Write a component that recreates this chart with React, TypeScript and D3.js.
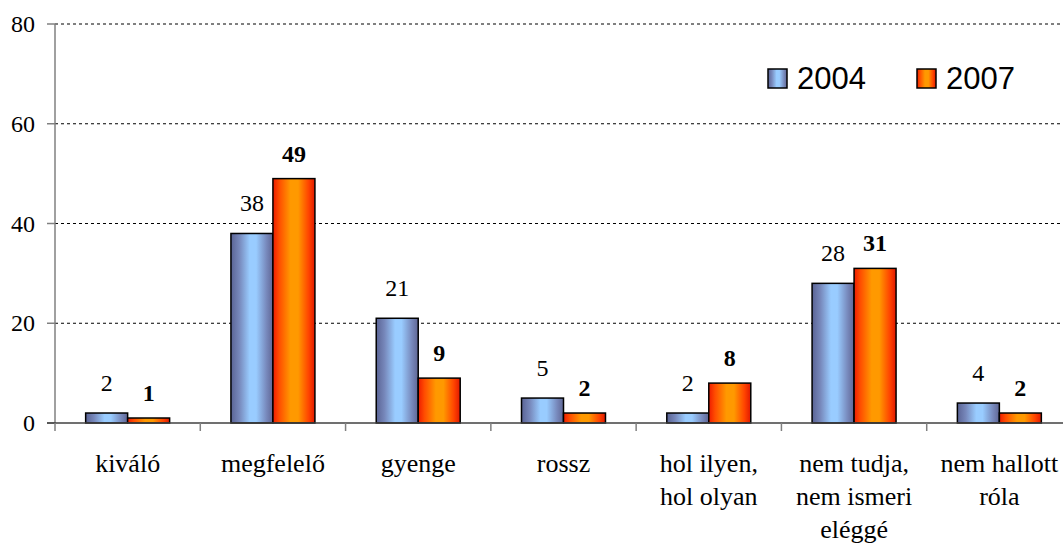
import React from "react";
import * as d3 from "d3";

const categories: string[][] = [
  ["kiváló"],
  ["megfelelő"],
  ["gyenge"],
  ["rossz"],
  ["hol ilyen,", "hol olyan"],
  ["nem tudja,", "nem ismeri", "eléggé"],
  ["nem hallott", "róla"],
];
const series = ["2004", "2007"];
const values2004 = [2, 38, 21, 5, 2, 28, 4];
const values2007 = [1, 49, 9, 2, 8, 31, 2];
const yTicks = [0, 20, 40, 60, 80];

const W = 1063;
const H = 549;
const left = 55;
const plotRight = 1072;
const y0 = 423;
const yTop = 24;

export default function App() {
  const keys = categories.map((_, i) => String(i));
  const x = d3.scaleBand<string>().domain(keys).range([left, plotRight]).padding(0);
  const xs = d3
    .scaleBand<string>()
    .domain(series)
    .range([0, x.bandwidth()])
    .paddingInner(0)
    .paddingOuter(0.73);
  const y = d3.scaleLinear().domain([0, 80]).range([y0, yTop]);
  const serif = '"Liberation Serif"';
  const sans = '"Liberation Sans"';
  const data = [values2004, values2007];
  const fills = ["url(#gBlue)", "url(#gOrange)"];

  return (
    <svg width={W} height={H} style={{ position: "absolute", left: 0, top: 0, background: "#fff" }}>
      <defs>
        <linearGradient id="gBlue" x1="0" x2="1" y1="0" y2="0">
          <stop offset="0" stopColor="#5a6394" />
          <stop offset="0.2" stopColor="#7788bb" />
          <stop offset="0.45" stopColor="#99ccff" />
          <stop offset="0.6" stopColor="#99ccff" />
          <stop offset="0.85" stopColor="#7788bb" />
          <stop offset="1" stopColor="#5f6694" />
        </linearGradient>
        <linearGradient id="gOrange" x1="0" x2="1" y1="0" y2="0">
          <stop offset="0" stopColor="#ee1c00" />
          <stop offset="0.15" stopColor="#ff4d00" />
          <stop offset="0.42" stopColor="#ff9900" />
          <stop offset="0.6" stopColor="#ff9900" />
          <stop offset="0.85" stopColor="#ff4400" />
          <stop offset="1" stopColor="#e01800" />
        </linearGradient>
      </defs>

      {yTicks.filter((t) => t > 0).map((t) => (
        <line key={"g" + t} x1={left} x2={W} y1={y(t)} y2={y(t)} stroke="#000" strokeWidth={1} strokeDasharray="3,3" />
      ))}

      {categories.map((_, i) =>
        series.map((s, si) => {
          const v = data[si][i];
          const bx = (x(String(i)) as number) + (xs(s) as number);
          return (
            <rect
              key={"b" + i + s}
              x={bx}
              y={y(v)}
              width={xs.bandwidth()}
              height={y0 - y(v)}
              fill={fills[si]}
              stroke="#000"
              strokeWidth={1.5}
            />
          );
        })
      )}

      {categories.map((_, i) =>
        series.map((s, si) => {
          const v = data[si][i];
          const cx = (x(String(i)) as number) + (xs(s) as number) + xs.bandwidth() / 2;
          return (
            <text
              key={"l" + i + s}
              x={cx}
              y={y(v) - (si === 0 ? 22 : 17)}
              textAnchor="middle"
              style={{ fontFamily: serif }}
              fontSize={24}
              fontWeight={si === 1 ? "bold" : "normal"}
              fill="#000"
            >
              {v}
            </text>
          );
        })
      )}

      <line x1={left} x2={left} y1={yTop} y2={y0} stroke="#808080" strokeWidth={1.5} />
      {yTicks.map((t) => (
        <g key={"t" + t}>
          <line x1={left - 8} x2={left} y1={y(t)} y2={y(t)} stroke="#808080" strokeWidth={1.5} />
          <text x={35} y={y(t) + 8} textAnchor="end" style={{ fontFamily: serif }} fontSize={24} fill="#000">
            {t}
          </text>
        </g>
      ))}

      <line x1={left - 8} x2={W} y1={y0} y2={y0} stroke="#404040" strokeWidth={1.5} />
      {keys.map((k) => (
        <line key={"xt" + k} x1={x(k) as number} x2={x(k) as number} y1={y0} y2={y0 + 8} stroke="#808080" strokeWidth={1.5} />
      ))}
      {categories.map((lines, i) => (
        <text
          key={"c" + i}
          x={(x(String(i)) as number) + x.bandwidth() / 2}
          y={472}
          textAnchor="middle"
          style={{ fontFamily: serif }}
          fontSize={26}
          fill="#000"
        >
          {lines.map((ln, li) => (
            <tspan key={li} x={(x(String(i)) as number) + x.bandwidth() / 2} dy={li === 0 ? 0 : 33}>
              {ln}
            </tspan>
          ))}
        </text>
      ))}

      {series.map((s, si) => {
        const lx = si === 0 ? 768 : 917;
        return (
          <g key={"lg" + s}>
            <rect x={lx} y={69} width={19} height={19} fill={fills[si]} stroke="#000" strokeWidth={1.5} />
            <text x={lx + 29} y={89} style={{ fontFamily: sans }} fontSize={31} fill="#000">
              {s}
            </text>
          </g>
        );
      })}
    </svg>
  );
}
